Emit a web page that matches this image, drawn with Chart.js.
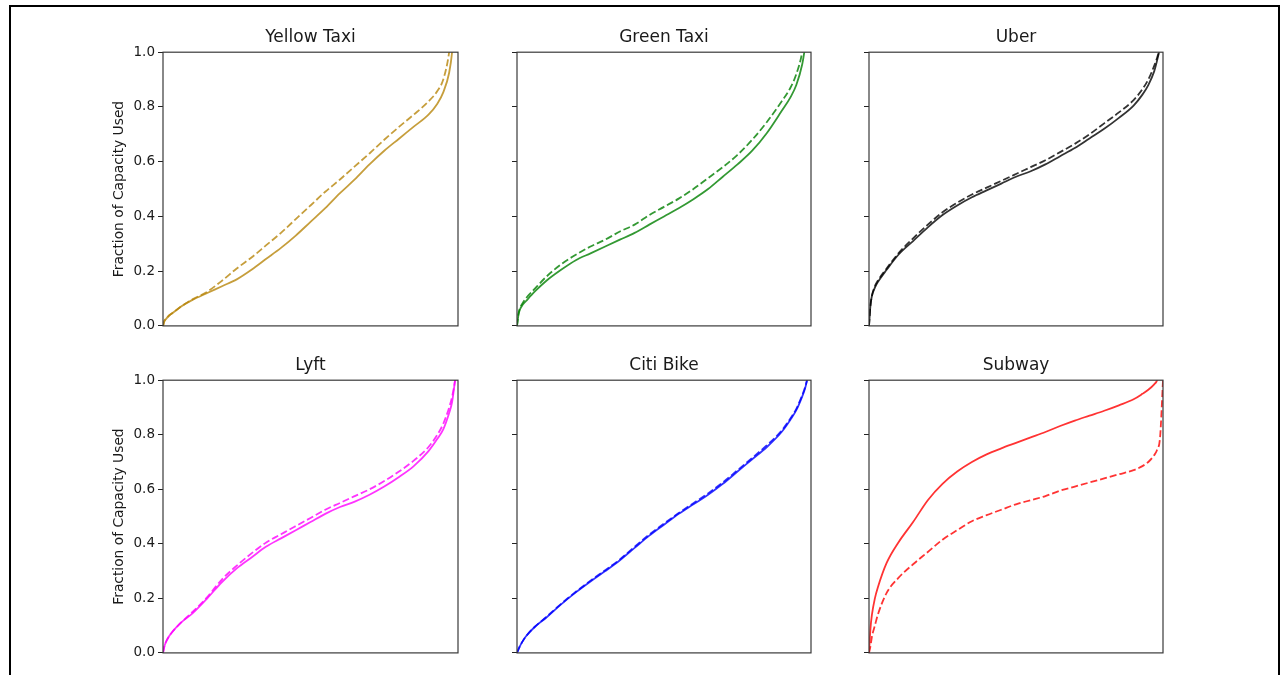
<!DOCTYPE html>
<html>
<head>
<meta charset="utf-8">
<script src="https://cdn.jsdelivr.net/npm/chart.js@4.4.1/dist/chart.umd.min.js"></script>
<style>
  body { margin: 0; background: #fff; width: 1283px; height: 675px; overflow: hidden; position: relative; }
  #frame { position: absolute; left: 9px; top: 5px; width: 1271px; height: 700px; border: 2px solid #000; box-sizing: border-box; }
  canvas { position: absolute; }
</style>
</head>
<body>
<div id="frame"></div>
<canvas id="c0"></canvas>
<canvas id="c1"></canvas>
<canvas id="c2"></canvas>
<canvas id="c3"></canvas>
<canvas id="c4"></canvas>
<canvas id="c5"></canvas>
<script>
'use strict';

//share of trips (x) and fraction of capacity used for each service
var xPoints = [0, 0.005, 0.01, 0.02, 0.03, 0.06, 0.1, 0.15, 0.2, 0.25, 0.3, 0.35, 0.4, 0.45, 0.5, 0.55, 0.6, 0.65, 0.7, 0.75, 0.8, 0.85, 0.9, 0.93, 0.95, 0.97, 0.98, 0.99, 1.0];
var yTicks = [0, 0.2, 0.4, 0.6, 0.8, 1.0];
var titles = ['Yellow Taxi', 'Green Taxi', 'Uber', 'Lyft', 'Citi Bike', 'Subway'];
var colors = ['rgba(184,134,11,0.8)', 'rgba(0,128,0,0.8)', 'rgba(0,0,0,0.8)', 'rgba(255,0,255,0.8)', 'rgba(0,0,255,0.8)', 'rgba(255,0,0,0.8)'];

var yellowSolid = [0, 0.018, 0.025, 0.037, 0.045, 0.07, 0.095, 0.12, 0.145, 0.17, 0.205, 0.245, 0.285, 0.33, 0.38, 0.43, 0.485, 0.535, 0.59, 0.64, 0.684, 0.728, 0.772, 0.812, 0.853, 0.925, 1.0, 1.15, 1.3];
var yellowDashed = [0, 0.018, 0.025, 0.037, 0.045, 0.07, 0.097, 0.125, 0.165, 0.21, 0.25, 0.295, 0.34, 0.39, 0.44, 0.49, 0.535, 0.583, 0.63, 0.68, 0.727, 0.772, 0.82, 0.858, 0.9, 1.0, 1.1, 1.2, 1.3];
var greenSolid = [0, 0.04, 0.06, 0.078, 0.09, 0.125, 0.165, 0.205, 0.24, 0.265, 0.29, 0.315, 0.34, 0.37, 0.4, 0.43, 0.463, 0.5, 0.545, 0.59, 0.64, 0.705, 0.785, 0.835, 0.88, 0.955, 1.02, 1.1, 1.2];
var greenDashed = [0, 0.045, 0.065, 0.085, 0.1, 0.135, 0.18, 0.225, 0.26, 0.29, 0.315, 0.345, 0.37, 0.405, 0.435, 0.465, 0.5, 0.54, 0.58, 0.625, 0.68, 0.745, 0.82, 0.87, 0.92, 1.0, 1.08, 1.15, 1.25];
var uberSolid = [0, 0.075, 0.11, 0.14, 0.16, 0.205, 0.26, 0.31, 0.36, 0.405, 0.44, 0.47, 0.495, 0.52, 0.545, 0.565, 0.59, 0.62, 0.65, 0.685, 0.72, 0.76, 0.805, 0.845, 0.88, 0.93, 0.97, 1.02, 1.1];
var uberDashed = [0, 0.075, 0.11, 0.145, 0.165, 0.21, 0.265, 0.32, 0.37, 0.415, 0.45, 0.48, 0.505, 0.53, 0.555, 0.58, 0.605, 0.635, 0.665, 0.7, 0.74, 0.78, 0.825, 0.865, 0.9, 0.95, 0.98, 1.02, 1.1];
var lyftSolid = [0, 0.025, 0.04, 0.06, 0.075, 0.11, 0.145, 0.2, 0.26, 0.31, 0.35, 0.39, 0.42, 0.45, 0.48, 0.51, 0.535, 0.555, 0.58, 0.61, 0.645, 0.685, 0.74, 0.785, 0.82, 0.88, 0.92, 1.0, 1.1];
var lyftDashed = [0, 0.025, 0.04, 0.06, 0.075, 0.11, 0.15, 0.205, 0.27, 0.32, 0.365, 0.405, 0.435, 0.465, 0.495, 0.525, 0.55, 0.575, 0.6, 0.63, 0.665, 0.705, 0.755, 0.8, 0.84, 0.9, 0.94, 1.0, 1.1];
var citiSolid = [0, 0.013, 0.025, 0.044, 0.06, 0.095, 0.13, 0.178, 0.222, 0.262, 0.3, 0.34, 0.385, 0.43, 0.47, 0.51, 0.545, 0.58, 0.62, 0.665, 0.71, 0.755, 0.81, 0.855, 0.89, 0.94, 0.97, 1.02, 1.1];
var citiDashed = [0, 0.013, 0.025, 0.044, 0.06, 0.095, 0.132, 0.18, 0.224, 0.265, 0.303, 0.343, 0.389, 0.434, 0.474, 0.513, 0.549, 0.585, 0.625, 0.67, 0.715, 0.762, 0.815, 0.86, 0.895, 0.945, 0.975, 1.02, 1.1];
var subwaySolid = [0, 0.09, 0.14, 0.2, 0.24, 0.33, 0.405, 0.48, 0.56, 0.62, 0.665, 0.7, 0.728, 0.75, 0.77, 0.79, 0.81, 0.832, 0.852, 0.87, 0.888, 0.908, 0.93, 0.95, 0.965, 0.985, 1.0, 1.05, 1.15];
var subwayDashed = [0, 0.025, 0.06, 0.1, 0.14, 0.22, 0.275, 0.325, 0.37, 0.415, 0.45, 0.483, 0.505, 0.525, 0.545, 0.56, 0.575, 0.595, 0.61, 0.625, 0.64, 0.655, 0.67, 0.685, 0.7, 0.725, 0.745, 0.79, 1.0];

var solidSeries = [yellowSolid, greenSolid, uberSolid, lyftSolid, citiSolid, subwaySolid];
var dashedSeries = [yellowDashed, greenDashed, uberDashed, lyftDashed, citiDashed, subwayDashed];

//where each panel's canvas goes (left, top, width, height, y axis width)
var canvasLeft = [100, 507, 859];
var canvasTop = [27, 355];
var canvasWidth = [363, 309, 309];
var canvasHeight = [310, 309];
var axisWidth = [63, 10, 10];

//draws the box around the plot area
var framePlugin = {
  id: 'framePlugin',
  afterDraw: function (chart) {
    var a = chart.chartArea;
    var ctx = chart.ctx;
    ctx.save();
    ctx.strokeStyle = '#3a3a3a';
    ctx.lineWidth = 1.2;
    ctx.strokeRect(a.left, a.top, a.right - a.left, a.bottom - a.top);
    ctx.restore();
  }
};

function toPoints(values) {
  var pts = [];
  for (var i = 0; i < xPoints.length; i++) {
    pts.push({ x: xPoints[i], y: values[i] });
  }
  return pts;
}

function makePanel(i) {
  var col = i % 3;
  var row = Math.floor(i / 3);
  var canvas = document.getElementById('c' + i);
  canvas.width = canvasWidth[col];
  canvas.height = canvasHeight[row];
  canvas.style.left = canvasLeft[col] + 'px';
  canvas.style.top = canvasTop[row] + 'px';
  var firstCol = col === 0;

  new Chart(canvas.getContext('2d'), {
    type: 'line',
    data: {
      datasets: [
        {
          data: toPoints(solidSeries[i]),
          borderColor: colors[i],
          borderWidth: 1.8,
          pointRadius: 0,
          cubicInterpolationMode: 'monotone',
          fill: false
        },
        {
          data: toPoints(dashedSeries[i]),
          borderColor: colors[i],
          borderWidth: 1.8,
          borderDash: [7, 3],
          pointRadius: 0,
          cubicInterpolationMode: 'monotone',
          fill: false
        }
      ]
    },
    options: {
      responsive: false,
      animation: false,
      devicePixelRatio: 1,
      layout: { padding: { left: 0, right: 5, top: 0, bottom: 10 } },
      plugins: {
        legend: { display: false },
        tooltip: { enabled: false },
        title: {
          display: true,
          text: titles[i],
          fullSize: false,
          color: '#1a1a1a',
          font: { family: 'DejaVu Sans', size: 17, weight: 'normal', lineHeight: 1.2 },
          padding: { top: 0, bottom: 4.8 }
        }
      },
      scales: {
        x: {
          type: 'linear',
          min: 0,
          max: 1,
          display: false
        },
        y: {
          type: 'linear',
          min: 0,
          max: 1,
          afterBuildTicks: function (scale) {
            scale.ticks = yTicks.map(function (v) { return { value: v }; });
          },
          afterFit: function (scale) {
            scale.width = axisWidth[col];
          },
          border: { display: false },
          grid: {
            drawOnChartArea: false,
            drawTicks: true,
            tickLength: 5,
            tickColor: '#222',
            tickWidth: 1
          },
          ticks: {
            padding: 3,
            color: '#1a1a1a',
            font: { family: 'DejaVu Sans', size: 13.5 },
            callback: function (value) {
              return firstCol ? value.toFixed(1) : '';
            }
          },
          title: {
            display: firstCol,
            text: 'Fraction of Capacity Used',
            color: '#1a1a1a',
            font: { family: 'DejaVu Sans', size: 13.8, lineHeight: 1.2 },
            padding: { top: 11, bottom: 0 }
          }
        }
      }
    },
    plugins: [framePlugin]
  });
}

for (var i = 0; i < 6; i++) {
  makePanel(i);
}
</script>
</body>
</html>
